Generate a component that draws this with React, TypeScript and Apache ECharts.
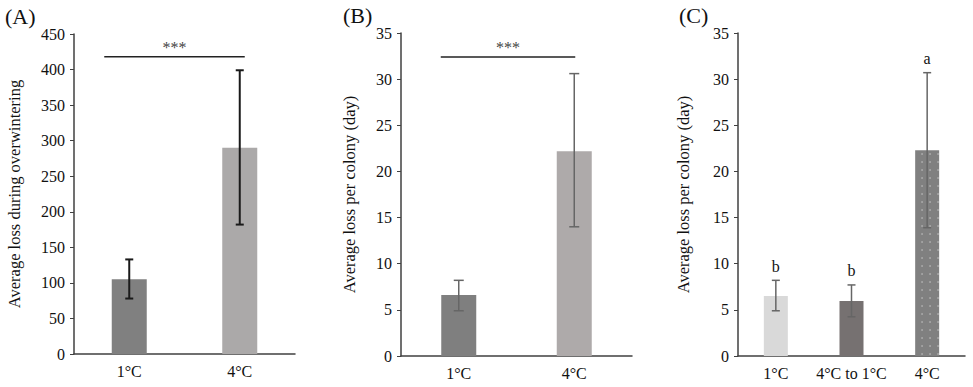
import React, { useEffect, useRef } from "react";
import * as echarts from "echarts";

const catsAB = ["1°C", "4°C"];
const catsC = ["1°C", "4°C to 1°C", "4°C"];

const valsA = [105, 290];
const errA = [
  [78, 133],
  [182, 399],
];
const sigA = 418;

const valsB = [6.6, 22.2];
const errB = [
  [4.9, 8.2],
  [14.0, 30.6],
];
const sigB = 32.4;

const valsC = [6.5, 5.95, 22.3];
const errC = [
  [4.9, 8.2],
  [4.25, 7.7],
  [13.9, 30.7],
];
const lettersC = ["b", "b", "a"];

const yTitleA = "Average loss during overwintering";
const yTitleBC = "Average loss per colony (day)";
const panelLabels = ["(A)", "(B)", "(C)"];

const FONT = "Liberation Serif";

export default function App() {
  const ref = useRef<HTMLDivElement>(null);
  useEffect(() => {
    if (!ref.current) return;
    const chart = echarts.init(ref.current, undefined, { renderer: "svg" });

    const grids = [
      { left: 74, top: 34, width: 221, height: 320 },
      { left: 401, top: 33, width: 231, height: 323 },
      { left: 738, top: 33, width: 227, height: 323 },
    ];

    const xAxis = [catsAB, catsAB, catsC].map((c, i) => ({
      type: "category",
      gridIndex: i,
      data: c,
      axisLine: { lineStyle: { color: "#404040", width: 1.5 } },
      axisTick: { show: false },
      axisLabel: { color: "#111", fontFamily: FONT, fontSize: 16, margin: 9, interval: 0 },
    }));

    const yCfg = [
      { max: 450, interval: 50, name: yTitleA, gap: 51 },
      { max: 35, interval: 5, name: yTitleBC, gap: 43 },
      { max: 35, interval: 5, name: yTitleBC, gap: 46 },
    ];
    const yAxis = yCfg.map((c, i) => ({
      type: "value",
      gridIndex: i,
      min: 0,
      max: c.max,
      interval: c.interval,
      name: c.name,
      nameLocation: "middle",
      nameGap: c.gap,
      nameTextStyle: { color: "#111", fontFamily: FONT, fontSize: 16.5 },
      axisLine: { show: true, lineStyle: { color: "#404040", width: 1.5 } },
      axisTick: { show: true, length: 4, lineStyle: { color: "#404040" } },
      splitLine: { show: false },
      axisLabel: { color: "#111", fontFamily: FONT, fontSize: 16, margin: 9 },
    }));

    const errSeries = (
      idx: number,
      errs: number[][],
      color: string,
      width: number,
      cap: number,
      letters?: string[]
    ) => ({
      type: "custom",
      xAxisIndex: idx,
      yAxisIndex: idx,
      silent: true,
      data: errs.map((e, i) => [i, e[0], e[1]]),
      renderItem: (params: any, api: any) => {
        const x = api.value(0);
        const lo = api.coord([x, api.value(1)]);
        const hi = api.coord([x, api.value(2)]);
        const children: any[] = [
          { type: "line", shape: { x1: lo[0], y1: lo[1], x2: hi[0], y2: hi[1] }, style: { stroke: color, lineWidth: width } },
          { type: "line", shape: { x1: hi[0] - cap / 2, y1: hi[1], x2: hi[0] + cap / 2, y2: hi[1] }, style: { stroke: color, lineWidth: width } },
          { type: "line", shape: { x1: lo[0] - cap / 2, y1: lo[1], x2: lo[0] + cap / 2, y2: lo[1] }, style: { stroke: color, lineWidth: width } },
        ];
        if (letters) {
          children.push({
            type: "text",
            x: hi[0],
            y: hi[1] - 14,
            style: {
              text: letters[params.dataIndex],
              fontFamily: FONT,
              fontSize: 16,
              fill: "#111",
              align: "center",
              verticalAlign: "middle",
            },
          });
        }
        return { type: "group", children };
      },
      z: 5,
    });

    const sigSeries = (idx: number, y: number, startOff: number, endOff: number) => ({
      type: "custom",
      xAxisIndex: idx,
      yAxisIndex: idx,
      silent: true,
      data: [[0, y]],
      renderItem: (params: any, api: any) => {
        const a = api.coord([0, api.value(1)]);
        const b = api.coord([1, api.value(1)]);
        const x1 = a[0] + startOff;
        const x2 = b[0] + endOff;
        return {
          type: "group",
          children: [
            { type: "line", shape: { x1, y1: a[1], x2, y2: a[1] }, style: { stroke: "#222", lineWidth: 1.5 } },
            {
              type: "text",
              x: (x1 + x2) / 2,
              y: a[1] - 9,
              style: {
                text: "***",
                fontFamily: FONT,
                fontSize: 16,
                fill: "#444",
                align: "center",
                verticalAlign: "middle",
              },
            },
          ],
        };
      },
    });

    const barSeries = (idx: number, vals: number[], colors: string[], width: number, decals?: (any | null)[]) => ({
      type: "bar",
      xAxisIndex: idx,
      yAxisIndex: idx,
      barWidth: width,
      silent: true,
      data: vals.map((v, i) => ({
        value: v,
        itemStyle: {
          color: colors[i],
          ...(decals && decals[i] ? { decal: decals[i] } : {}),
        },
      })),
    });

    const dotDecal = {
      symbol: "circle",
      symbolSize: 0.45,
      color: "rgba(255,255,255,0.35)",
      dashArrayX: 4,
      dashArrayY: 4,
      rotation: 0,
    };

    chart.setOption({
      animation: false,
      grid: grids,
      xAxis,
      yAxis,
      graphic: panelLabels.map((t, i) => ({
        type: "text",
        left: [5, 343, 679][i],
        top: [5, 4, 4][i],
        style: { text: t, fontFamily: FONT, fontSize: 22, fill: "#111" },
      })),
      series: [
        barSeries(0, valsA, ["#808080", "#aba9a9"], 35),
        errSeries(0, errA, "#1a1a1a", 2, 8),
        sigSeries(0, sigA, -25, 5),
        barSeries(1, valsB, ["#7f7f7f", "#aeaaaa"], 35),
        errSeries(1, errB, "#666", 1.5, 10),
        sigSeries(1, sigB, -18, 1),
        barSeries(2, valsC, ["#d9d9d9", "#767171", "#808080"], 24, [null, null, dotDecal]),
        errSeries(2, errC, "#666", 1.5, 8, lettersC),
      ],
    });
    return () => chart.dispose();
  }, []);

  return (
    <div
      ref={ref}
      style={{ position: "fixed", left: 0, top: 0, width: 973, height: 387, background: "#fff" }}
    />
  );
}
